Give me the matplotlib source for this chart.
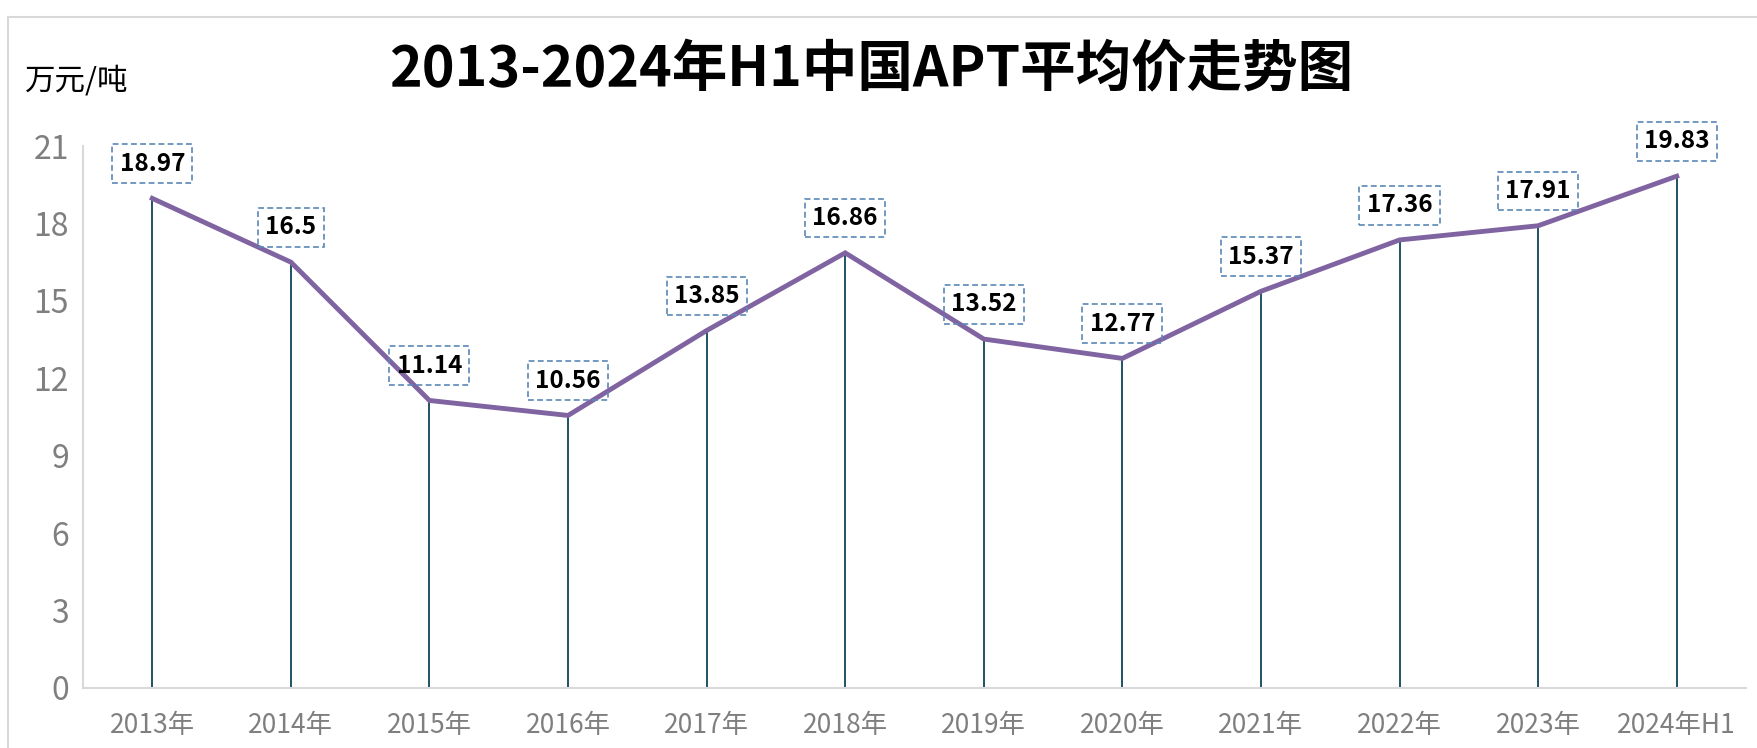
import matplotlib
matplotlib.use("Agg")
import matplotlib.pyplot as plt
from matplotlib.patches import Rectangle

plt.rcParams['font.family'] = ['Noto Sans CJK SC', 'DejaVu Sans']

categories = ["2013年", "2014年", "2015年", "2016年", "2017年", "2018年",
              "2019年", "2020年", "2021年", "2022年", "2023年", "2024年H1"]
prices = [18.97, 16.5, 11.14, 10.56, 13.85, 16.86, 13.52, 12.77, 15.37, 17.36, 17.91, 19.83]
label_texts = ["18.97", "16.5", "11.14", "10.56", "13.85", "16.86", "13.52", "12.77",
               "15.37", "17.36", "17.91", "19.83"]
yticks = [0, 3, 6, 9, 12, 15, 18, 21]
title = "2013-2024年H1中国APT平均价走势图"
unit = "万元/吨"

W, H = 1757, 748
fig = plt.figure(figsize=(W / 100, H / 100), dpi=100)
fig.patch.set_facecolor("white")

# outer frame
fig.patches.append(Rectangle((8 / W, -0.1), 1.2, 1 - 17 / H + 0.1, transform=fig.transFigure,
                             fill=False, edgecolor="#d9d9d9", linewidth=1.5))

ax = fig.add_axes([83 / W, 1 - 688 / H, (1746 - 83) / W, (688 - 146) / H])
x = list(range(len(categories)))

ax.vlines(x, 0, prices, color="#1f5364", linewidth=1.4, zorder=2)
ax.plot(x, prices, color="#8064a2", linewidth=3.5, solid_joinstyle="miter", zorder=3)

for xi, v, t in zip(x, prices, label_texts):
    ax.annotate(t, (xi, v), xytext=(0, 25), textcoords="offset points",
                ha="center", va="center", fontsize=17.5, fontweight="bold", color="black",
                zorder=5,
                bbox=dict(boxstyle="square,pad=0.3", facecolor="none",
                          edgecolor="#5a87b8", linestyle=(0, (3.5, 2)), linewidth=1.2))

ax.set_xlim(-0.5, len(categories) - 0.5)
ax.set_ylim(0, 21)
ax.set_xticks(x)
ax.set_xticklabels(categories, fontsize=19, color="#7f7f7f", fontweight="light")
ax.set_yticks(yticks)
ax.set_yticklabels([str(v) for v in yticks], fontsize=23, color="#7f7f7f", fontweight="light")
ax.tick_params(axis="both", length=0)
ax.tick_params(axis="x", pad=17)
ax.tick_params(axis="y", pad=10)
for s in ["top", "right"]:
    ax.spines[s].set_visible(False)
for s in ["left", "bottom"]:
    ax.spines[s].set_color("#d9d9d9")
    ax.spines[s].set_linewidth(1.5)
ax.set_facecolor("none")

fig.text(777 * 1.1205 / W, 1 - 63 * 1.1205 / H, title, ha="center", va="center",
         fontsize=40, fontweight="bold", color="black")
fig.text(25 / W, 1 - 81 / H, unit, ha="left", va="center", fontsize=22, color="black")

fig.savefig("out.png", dpi=100, facecolor="white")
